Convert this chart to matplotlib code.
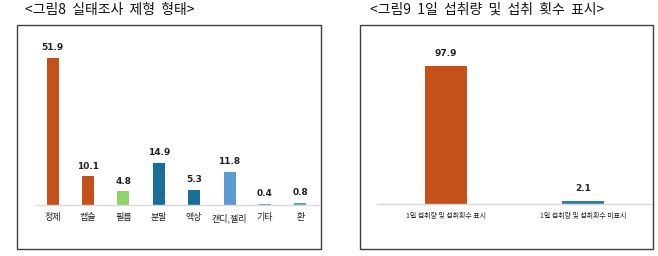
import matplotlib
matplotlib.use("Agg")
import matplotlib.pyplot as plt
from matplotlib.patches import Rectangle

plt.rcParams['font.family'] = ['Noto Sans CJK KR', 'DejaVu Sans']

# Data
cats1 = ['정제', '캡슐', '필름', '분말', '액상', '캔디,젤리', '기타', '환']
vals1 = [51.9, 10.1, 4.8, 14.9, 5.3, 11.8, 0.4, 0.8]
colors1 = ['#C4501A', '#C4501A', '#8ED46C', '#1A6F98', '#1A6F98', '#5B9BD5', '#5B9BD5', '#5B9BD5']
title1 = '<그림8  실태조사  제형  형태>'

cats2 = ['1일 섭취량 및 섭취횟수 표시', '1일 섭취량 및 섭취횟수 미표시']
vals2 = [97.9, 2.1]
colors2 = ['#C4501A', '#2A80A8']
title2 = '<그림9  1일  섭취량  및  섭취  횟수  표시>'

W, H = 658, 256
fig = plt.figure(figsize=(W / 100, H / 100), dpi=100)
fig.patch.set_facecolor('white')

def px(x0, y0, x1, y1):
    # convert pixel box (top-left origin) to figure fraction
    return [x0 / W, 1 - y1 / H, (x1 - x0) / W, (y1 - y0) / H]

# Panel frames
for (x0, y0, x1, y1) in [(17, 25, 321, 249), (360, 25, 653, 249)]:
    fig.patches.append(Rectangle((x0 / W, 1 - y1 / H), (x1 - x0) / W, (y1 - y0) / H,
                                 transform=fig.transFigure, fill=False,
                                 edgecolor='#3F3F3F', linewidth=1.0))

fig.text(25 / W, 1 - 10 / H, title1, ha='left', va='center', fontsize=10,
         fontweight='medium', color='#111111')
fig.text(370 / W, 1 - 10 / H, title2, ha='left', va='center', fontsize=10,
         fontweight='medium', color='#111111')

def style(ax):
    for s in ['top', 'right', 'left']:
        ax.spines[s].set_visible(False)
    ax.spines['bottom'].set_color('#D9D9D9')
    ax.spines['bottom'].set_linewidth(1.0)
    ax.set_yticks([])
    ax.tick_params(axis='x', length=0, pad=6)
    ax.set_facecolor('none')

# Left chart
ax1 = fig.add_axes(px(35, 40, 318, 205))
x1 = range(len(cats1))
bars = ax1.bar(x1, vals1, width=0.34, color=colors1, edgecolor='none')
ax1.set_xlim(-0.5, len(cats1) - 0.5)
ax1.set_ylim(0, 58.25)
ax1.set_xticks(list(x1))
ax1.set_xticklabels(cats1, fontsize=6.5, fontweight='medium', color='#222222')
for b, v in zip(bars, vals1):
    ax1.annotate(f'{v:.1f}', (b.get_x() + b.get_width() / 2, v), xytext=(0, 4),
                 textcoords='offset points', ha='center', va='bottom',
                 fontsize=6.5, fontweight='bold', family=['Liberation Sans Narrow', 'DejaVu Sans'],
                 color='#222222')
style(ax1)

# Right chart
ax2 = fig.add_axes(px(377, 40, 652, 204))
x2 = range(len(cats2))
bars2 = ax2.bar(x2, vals2, width=0.305, color=colors2, edgecolor='none')
ax2.set_xlim(-0.5, len(cats2) - 0.5)
ax2.set_ylim(0, 116.3)
ax2.set_xticks(list(x2))
ax2.set_xticklabels(cats2, fontsize=5, fontweight='medium', color='#222222')
for b, v in zip(bars2, vals2):
    ax2.annotate(f'{v:.1f}', (b.get_x() + b.get_width() / 2, v), xytext=(0, 6),
                 textcoords='offset points', ha='center', va='bottom',
                 fontsize=6.5, fontweight='bold', family=['Liberation Sans Narrow', 'DejaVu Sans'],
                 color='#222222')
style(ax2)

fig.savefig('out.png', dpi=100)
